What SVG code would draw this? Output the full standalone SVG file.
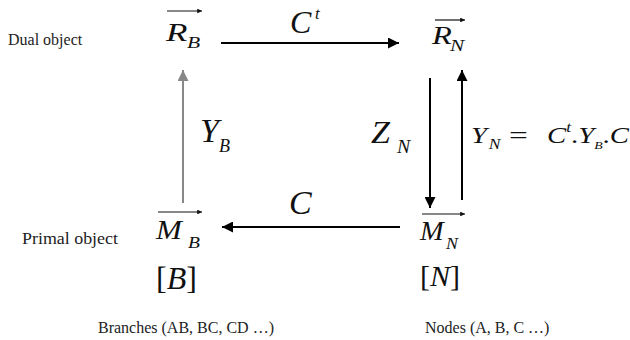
<svg xmlns="http://www.w3.org/2000/svg" width="630" height="340" viewBox="0 0 630 340">
<style>
text{font-family:"Liberation Serif","Times New Roman",Times,"DejaVu Serif",serif;fill:#111}
.lbl{font-size:16px;fill:#222}
.m{font-style:italic}
.conn{stroke:#000;stroke-width:2;fill:none}
.ov{stroke:#111;stroke-width:1.2;fill:none}
</style>
<defs>
<marker id="ah" viewBox="0 0 10 10" refX="10" refY="5" markerWidth="6" markerHeight="5.5" orient="auto" markerUnits="strokeWidth"><path d="M0,0 L10,5 L0,10 z" fill="#000"/></marker>
<marker id="ahg" viewBox="0 0 10 10" refX="10" refY="5" markerWidth="6" markerHeight="5.5" orient="auto" markerUnits="strokeWidth"><path d="M0,0 L10,5 L0,10 z" fill="#888"/></marker>
<marker id="sm" viewBox="0 0 10 10" refX="10" refY="5" markerWidth="5" markerHeight="4" orient="auto" markerUnits="strokeWidth"><path d="M0,0 L10,5 L0,10 z" fill="#111"/></marker>
</defs>
<text class="lbl" x="8" y="45">Dual object</text>
<text class="lbl" font-size="17" transform="translate(22,244) scale(1.12,1)">Primal object</text>
<text class="lbl" x="98" y="333">Branches (AB, BC, CD …)</text>
<text class="lbl" x="425" y="333">Nodes (A, B, C …)</text>
<g id="RB">
<text class="m" font-size="26" transform="translate(166,41) scale(1.35,1)">R<tspan x="15.6" y="7" font-size="16">B</tspan></text>
<line class="ov" x1="167" y1="11" x2="202" y2="11" marker-end="url(#sm)"/>
</g>
<g id="RN">
<text class="m" font-size="26" transform="translate(432,44) scale(1.25,1)">R<tspan x="14.4" y="7" font-size="17">N</tspan></text>
<line class="ov" x1="435" y1="20" x2="465" y2="20" marker-end="url(#sm)"/>
</g>
<g id="MB">
<text class="m" font-size="27" transform="translate(156,239) scale(1.15,1)">M<tspan x="27.8" y="9" font-size="17">B</tspan></text>
<line class="ov" x1="158" y1="212" x2="202" y2="212" marker-end="url(#sm)"/>
<text font-size="32" x="156" y="289">[<tspan class="m">B</tspan>]</text>
</g>
<g id="MN">
<text class="m" font-size="27" transform="translate(420,240) scale(1.05,1)">M<tspan x="24.8" y="9" font-size="17">N</tspan></text>
<line class="ov" x1="422" y1="214" x2="465" y2="214" marker-end="url(#sm)"/>
<text font-size="30" x="420" y="286">[<tspan class="m">N</tspan>]</text>
</g>
<g id="connectors">
<line class="conn" x1="221" y1="43" x2="399" y2="43" marker-end="url(#ah)"/>
<line class="conn" x1="400" y1="227" x2="222" y2="227" marker-end="url(#ah)"/>
<line class="conn" x1="430" y1="78" x2="430" y2="208" marker-end="url(#ah)"/>
<line class="conn" x1="462" y1="200" x2="462" y2="70" marker-end="url(#ah)"/>
<line x1="183" y1="203" x2="183" y2="70" stroke="#888" stroke-width="2" marker-end="url(#ahg)"/>
<text class="m" font-size="32" x="290" y="33">C<tspan x="315" y="19" font-size="17">t</tspan></text>
<text class="m" font-size="34" x="289" y="214">C</text>
<text class="m" font-size="34" x="200" y="142">Y<tspan dy="10" font-size="18">B</tspan></text>
<text class="m" font-size="31" transform="translate(371,143) scale(1.1,1)">Z<tspan x="23.6" y="10" font-size="18">N</tspan></text>
<g id="eq">
<text class="m" font-size="23" transform="translate(471,143) scale(1.25,1)">Y<tspan dx="1.5" dy="6" font-size="14">N</tspan></text>
<text font-size="23" transform="translate(509,143) scale(1.45,1)">=</text>
<text class="m" font-size="23" transform="translate(547,143) scale(1.25,1)">C<tspan dy="-11" font-size="14">t</tspan><tspan dy="11" font-style="normal">.</tspan><tspan>Y</tspan><tspan dy="6" font-size="11">B</tspan><tspan dy="-6" font-style="normal">.</tspan><tspan>C</tspan></text>
</g>
</g>
</svg>
